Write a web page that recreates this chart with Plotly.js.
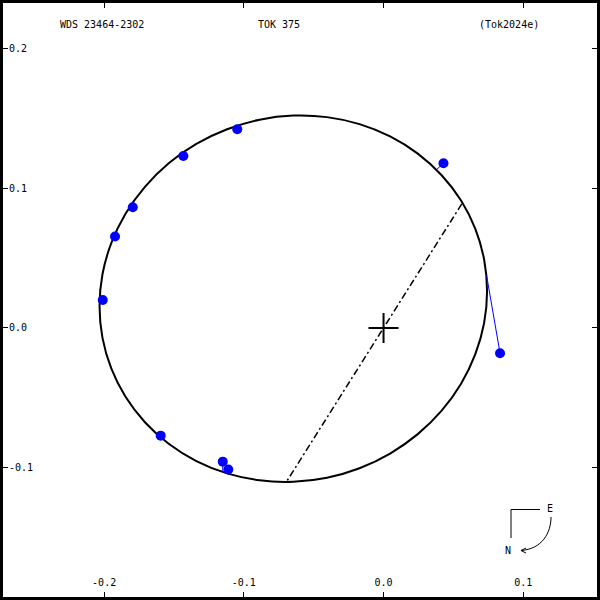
<!DOCTYPE html>
<html>
<head>
<meta charset="utf-8">
<script src="https://cdn.plot.ly/plotly-3.0.1.min.js"></script>
<style>html,body{margin:0;padding:0;background:#fff;}#chart{width:600px;height:600px;}</style>
</head>
<body>
<div id="chart"></div>
<script>
// Orbit curve
const orbitX = [0.0741,0.0720,0.0657,0.0555,0.0416,0.0245,0.0047,-0.0172,-0.0405,-0.0646,-0.0887,-0.1120,-0.1340,-0.1538,-0.1708,-0.1847,-0.1949,-0.2012,-0.2033,-0.2012,-0.1949,-0.1847,-0.1708,-0.1538,-0.1340,-0.1120,-0.0887,-0.0646,-0.0405,-0.0172,0.0047,0.0245,0.0416,0.0555,0.0657,0.0720,0.0741];
const orbitY = [0.0264,0.0035,-0.0188,-0.0399,-0.0592,-0.0760,-0.0899,-0.1004,-0.1072,-0.1101,-0.1091,-0.1041,-0.0953,-0.0829,-0.0675,-0.0493,-0.0290,-0.0071,0.0155,0.0384,0.0607,0.0818,0.1010,0.1179,0.1317,0.1422,0.1491,0.1520,0.1509,0.1459,0.1371,0.1248,0.1093,0.0912,0.0709,0.0490,0.0264];

// Observed positions
const obsX = [-0.1047,-0.1433,-0.1795,-0.1922,-0.2010,-0.1595,-0.1151,-0.1111,0.0429,0.0834];
const obsY = [0.1422,0.1231,0.0864,0.0655,0.0200,-0.0771,-0.0957,-0.1013,0.1179,-0.0181];
// Predicted positions on the orbit (ends of residual lines)
const predX = [-0.1045,-0.1433,-0.1810,-0.1940,-0.2029,-0.1600,-0.1151,-0.1105,0.0381,0.0737];
const predY = [0.1445,0.1252,0.0870,0.0655,0.0200,-0.0766,-0.1030,-0.1050,0.1135,0.0379];

// Line of nodes
const nodeX = [0.0560,-0.0691];
const nodeY = [0.0888,-0.1095];

// Primary star
const starX = [0];
const starY = [0];

// Ticks
const xTickVals = [-0.2,-0.1,0.0,0.1];
const xTickText = ['-0.2','-0.1','0.0','0.1'];
const yTickVals = [-0.1,0.0,0.1,0.2];
const yTickText = ['-0.1','0.0','0.1','0.2'];

// Header texts
const headerTexts = ['WDS 23464-2302','TOK 375','(Tok2024e)'];

// residual segments
const resX = [], resY = [];
for (let i = 0; i < obsX.length; i++) {
  resX.push(obsX[i], predX[i], null);
  resY.push(obsY[i], predY[i], null);
}

const M = 3;
function px(x){ return (x - M) / (600 - 2*M); }
function py(y){ return (600 - M - y) / (600 - 2*M); }
function pathPx(cmds){
  return cmds.map(c => {
    let s = c[0];
    for (let k = 1; k < c.length; k += 2) {
      s += (k > 1 ? ' ' : '') + px(c[k]).toFixed(5) + ',' + py(c[k+1]).toFixed(5);
    }
    return s;
  }).join(' ');
}

const font = {family: 'DejaVu Sans Mono, monospace', size: 10, color: '#000'};

const traces = [
  {x: nodeX, y: nodeY, mode: 'lines', line: {color: '#000', width: 1.5, dash: '7px,3px,2px,3px'}, hoverinfo: 'skip'},
  {x: orbitX, y: orbitY, mode: 'lines', line: {color: '#000', width: 2, shape: 'spline', smoothing: 1}, hoverinfo: 'skip'},
  {x: resX, y: resY, mode: 'lines', line: {color: '#0000ff', width: 1}, hoverinfo: 'skip', connectgaps: false},
  {x: obsX, y: obsY, mode: 'markers', marker: {color: '#0000ff', size: 10, symbol: 'circle'}, hoverinfo: 'skip'},
  {x: starX, y: starY, mode: 'markers', marker: {symbol: 'cross-thin', size: 21.5, line: {color: '#000', width: 2}}, hoverinfo: 'skip'}
];

const axisCommon = {
  ticks: 'inside', ticklen: 5, tickwidth: 1, tickcolor: '#000',
  showline: true, linewidth: 3, linecolor: '#000', mirror: 'ticks',
  showgrid: false, zeroline: false, ticklabelposition: 'inside',
  tickfont: font, fixedrange: true
};

const layout = {
  width: 600, height: 600,
  margin: {l: M, r: M, t: M, b: M, pad: 0},
  paper_bgcolor: '#fff', plot_bgcolor: '#fff',
  showlegend: false,
  xaxis: Object.assign({}, axisCommon, {range: [-0.2724, 0.1528], tickvals: xTickVals, ticktext: xTickText, ticklabelstandoff: 3}),
  yaxis: Object.assign({}, axisCommon, {range: [-0.1926, 0.2326], tickvals: yTickVals, ticktext: yTickText}),
  annotations: [
    {xref: 'paper', yref: 'paper', x: px(102), y: py(24), text: headerTexts[0], showarrow: false, font: font, xanchor: 'center', yanchor: 'middle'},
    {xref: 'paper', yref: 'paper', x: px(279), y: py(24), text: headerTexts[1], showarrow: false, font: font, xanchor: 'center', yanchor: 'middle'},
    {xref: 'paper', yref: 'paper', x: px(509), y: py(24), text: headerTexts[2], showarrow: false, font: font, xanchor: 'center', yanchor: 'middle'},
    {xref: 'paper', yref: 'paper', x: px(550), y: py(508), text: 'E', showarrow: false, font: font, xanchor: 'center', yanchor: 'middle'},
    {xref: 'paper', yref: 'paper', x: px(508), y: py(550), text: 'N', showarrow: false, font: font, xanchor: 'center', yanchor: 'middle'}
  ],
  shapes: [
    {type: 'path', xref: 'paper', yref: 'paper', path: pathPx([['M',540,509.5],['L',511,509.5],['L',511,538]]), line: {color: '#000', width: 1}},
    {type: 'path', xref: 'paper', yref: 'paper', path: pathPx([['M',551,517],['C',551,533,542,549,521,550.5]]), line: {color: '#000', width: 1}},
    {type: 'path', xref: 'paper', yref: 'paper', path: pathPx([['M',526,548],['L',521,550.5],['L',526,553]]), line: {color: '#000', width: 1}}
  ]
};

Plotly.newPlot('chart', traces, layout, {staticPlot: true, displayModeBar: false});
</script>
</body>
</html>
